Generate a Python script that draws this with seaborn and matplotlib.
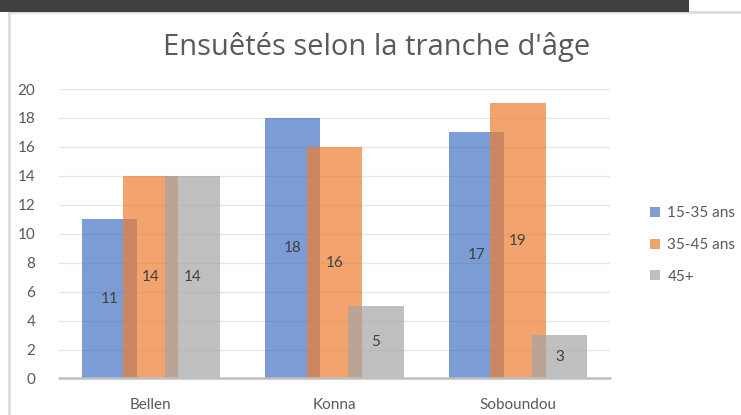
import matplotlib
matplotlib.use('Agg')
import matplotlib.pyplot as plt
from matplotlib.patches import Rectangle
from matplotlib.lines import Line2D
import pandas as pd
import seaborn as sns

# données
communes = ['Bellen', 'Konna', 'Soboundou']
tranches = ['15-35 ans', '35-45 ans', '45+']
v_15_35 = [11, 18, 17]
v_35_45 = [14, 16, 19]
v_45 = [14, 5, 3]
couleurs = ['#4472C4', '#ED7D31', '#A5A5A5']
y_ticks = list(range(0, 21, 2))

df = pd.DataFrame({
    'commune': communes * 3,
    'tranche': [t for t in tranches for _ in communes],
    'n': v_15_35 + v_35_45 + v_45,
})

sns.set_style('white')
plt.rcParams['font.family'] = ['Lato', 'DejaVu Sans']

fig = plt.figure(figsize=(7.41, 4.15), dpi=100)
ax = fig.add_axes([0.0796, 0.088, 0.823 - 0.0796, 0.7855 - 0.088])

sns.barplot(data=df, x='commune', y='n', hue='tranche', palette=couleurs,
            saturation=1, alpha=0.7, width=0.68, linewidth=0, ax=ax,
            legend=True)

# barres plus larges que l'écart -> elles se chevauchent comme dans Excel
bar_w = 0.30
for cont in ax.containers:
    for p in cont.patches:
        cx = p.get_x() + p.get_width() / 2
        p.set_width(bar_w)
        p.set_x(cx - bar_w / 2)
    ax.bar_label(cont, label_type='center', color='#404040', fontsize=11)

ax.set_xlim(-0.5, 2.5)
ax.set_ylim(0, 20)
ax.set_yticks(y_ticks)
ax.yaxis.grid(True, color='#E6E6E6', lw=1.0)
ax.set_axisbelow(True)
ax.axhline(0, color='#BFBFBF', lw=1.8, clip_on=False, zorder=5)
for s in ax.spines.values():
    s.set_visible(False)
ax.tick_params(axis='both', length=0, labelsize=11, labelcolor='#595959')
ax.tick_params(axis='y', pad=17)
ax.tick_params(axis='x', pad=14)
ax.set_xlabel('')
ax.set_ylabel('')

handles, labels = ax.get_legend_handles_labels()
ax.legend(handles, labels, loc='center left', bbox_to_anchor=(636 / 741, 1 - 245 / 415),
          bbox_transform=fig.transFigure, frameon=False, fontsize=11,
          handlelength=0.65, handleheight=0.65, handletextpad=0.5,
          labelspacing=1.15, labelcolor='#595959')

fig.text(377 / 741, 1 - 47 / 415, "Ensuêtés selon la tranche d'âge", ha='center', va='center',
         fontsize=21, color='#595959', family=['Open Sans', 'DejaVu Sans'])

# bandeau sombre en haut et cadre gris
fig.patches.append(Rectangle((0, 1 - 12 / 415), 689 / 741, 12 / 415, transform=fig.transFigure,
                             facecolor='#404040', edgecolor='none', zorder=10))
fig.lines.append(Line2D([8.5 / 741, 8.5 / 741], [0, 1 - 12 / 415], transform=fig.transFigure,
                        color='#D9D9D9', lw=1.8))
fig.lines.append(Line2D([8.5 / 741, 740 / 741], [1 - 12.5 / 415, 1 - 12.5 / 415], transform=fig.transFigure,
                        color='#D9D9D9', lw=1.8))

fig.savefig('out.png', dpi=100)
